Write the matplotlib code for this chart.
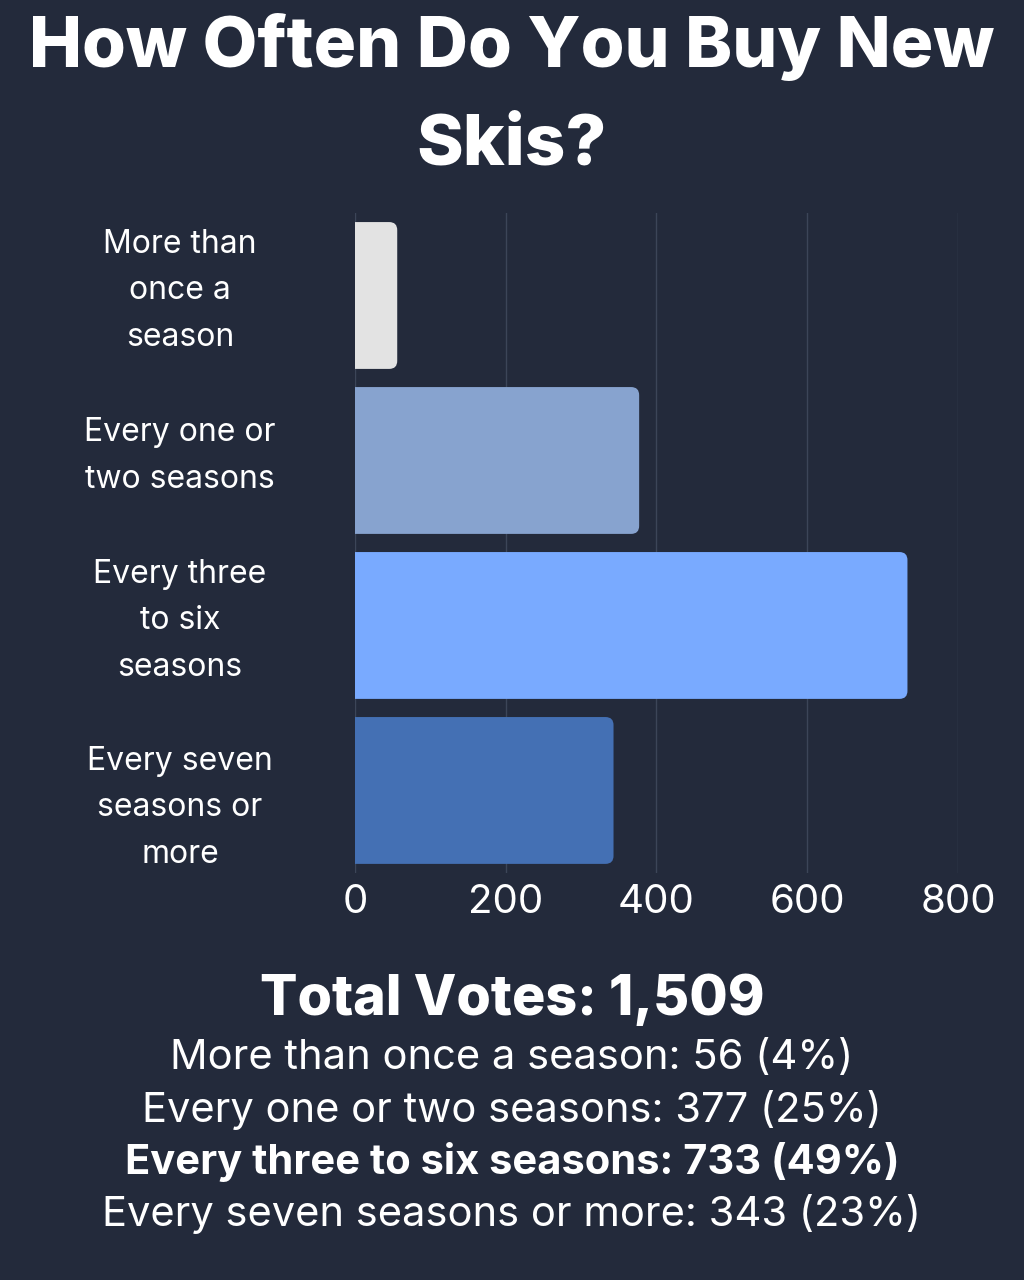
import matplotlib
matplotlib.use("Agg")
import matplotlib.pyplot as plt
from matplotlib.patches import FancyBboxPatch
from matplotlib.transforms import ScaledTranslation

BG = "#232a3b"
categories = ["More than\nonce a\nseason", "Every one or\ntwo seasons",
              "Every three\nto six\nseasons", "Every seven\nseasons or\nmore"]
votes = [56, 377, 733, 343]
colors = ["#e3e3e3", "#87a3cf", "#79aaff", "#4470b4"]
xticks = [0, 200, 400, 600, 800]
summary = ["More than once a season: 56 (4%)",
           "Every one or two seasons: 377 (25%)",
           "Every three to six seasons: 733 (49%)",
           "Every seven seasons or more: 343 (23%)"]
title = "How Often Do You Buy New\nSkis?"
total_line = "Total Votes: 1,509"

plt.rcParams["font.family"] = ["Inter", "DejaVu Sans"]

fig = plt.figure(figsize=(10.24, 12.8), dpi=100, facecolor=BG)
ax = fig.add_axes([0.3467, 0.318, 0.5888, 0.5156], facecolor=BG)

ypos = list(range(len(categories)))
ax.set_xlim(0, 800)
ax.set_ylim(len(categories) - 0.5, -0.5)

# rounded right-hand corners, left side clipped by the axes at x=0
px_x = 800 / 603.0
px_y = 1 / 165.0
r = 8 * px_x
h = 0.89
for y, v, c in zip(ypos, votes, colors):
    p = FancyBboxPatch((-30, y - h / 2), v + 30, h,
                       boxstyle=f"round,pad=0,rounding_size={r}",
                       mutation_aspect=px_y / px_x,
                       fc=c, ec="none", zorder=3)
    ax.add_patch(p)

ax.set_xticks(xticks)
ax.set_xticklabels([str(t) for t in xticks], color="white", fontsize=29)
ax.grid(axis="x", color="#3c4558", lw=1, zorder=0)
ax.tick_params(axis="x", length=0, pad=8)
ax.set_yticks(ypos)
ax.set_yticklabels(categories, color="white", fontsize=23, ha="center",
                   multialignment="center", linespacing=1.66)
ax.tick_params(axis="y", length=0, pad=126)
# the last label sits a little lower in the original
for lab, dy in zip(ax.get_yticklabels(), [0.16, 0.16, 0.16, -0.06]):
    lab.set_transform(lab.get_transform() + ScaledTranslation(0, dy, fig.dpi_scale_trans))
for s in ax.spines.values():
    s.set_visible(False)

fig.text(0.5, 1 - 96 / 1280, title, ha="center", va="center", color="white",
         fontsize=51, fontweight="heavy", linespacing=1.64)

fig.text(0.5, 1 - 1000 / 1280, total_line, ha="center", va="center", color="white",
         fontsize=40, fontweight="heavy")
for i, line in enumerate(summary):
    fig.text(0.5, 1 - (1058 + 52 * i) / 1280, line, ha="center", va="center",
             color="white", fontsize=30,
             fontweight="bold" if i == 2 else "normal")

fig.savefig("out.png", dpi=100, facecolor=BG)
